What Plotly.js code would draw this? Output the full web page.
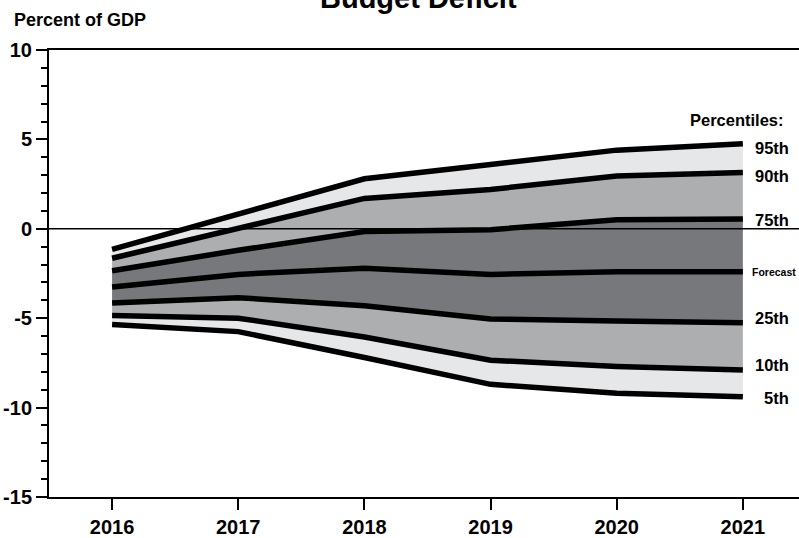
<!DOCTYPE html>
<html>
<head>
<meta charset="utf-8">
<script src="https://cdn.plot.ly/plotly-3.0.1.min.js"></script>
<style>
  html, body { margin: 0; padding: 0; background: #ffffff; }
  #chart { width: 799px; height: 538px; }
</style>
</head>
<body>
<div id="chart"></div>
<script>
// ---- Data ----
const years = [2016, 2017, 2018, 2019, 2020, 2021];
const p95 = [-1.15, 0.85, 2.8, 3.6, 4.4, 4.75];
const p90 = [-1.65, 0.05, 1.7, 2.2, 2.95, 3.15];
const p75 = [-2.35, -1.2, -0.15, -0.05, 0.5, 0.55];
const forecast = [-3.25, -2.55, -2.2, -2.55, -2.4, -2.4];
const p25 = [-4.15, -3.85, -4.3, -5.05, -5.15, -5.25];
const p10 = [-4.85, -5.0, -6.05, -7.35, -7.7, -7.9];
const p5 = [-5.35, -5.75, -7.2, -8.7, -9.2, -9.4];

const yTickVals = [-15, -10, -5, 0, 5, 10];
const yTickText = ["-15", "-10", "-5", "0", "5", "10"];
const xTickVals = [2016, 2017, 2018, 2019, 2020, 2021];
const xTickText = ["2016", "2017", "2018", "2019", "2020", "2021"];

const seriesLabels = ["95th", "90th", "75th", "Forecast", "25th", "10th", "5th"];

// ---- Styles ----
const FONT = "'Liberation Sans', Arial, sans-serif";
const LIGHT = "#e6e7e8";
const MID = "#adaeb0";
const DARK = "#77787b";

// Fill bands (bottom to top), no lines
const bandSeries = [p5, p10, p25, forecast, p75, p90, p95];
const bandColors = [null, LIGHT, MID, DARK, DARK, MID, LIGHT];
const traces = [];
bandSeries.forEach((s, i) => {
  traces.push({
    x: years, y: s, type: "scatter", mode: "lines",
    line: { width: 0, color: "rgba(0,0,0,0)" },
    fill: i === 0 ? "none" : "tonexty",
    fillcolor: bandColors[i] || "rgba(0,0,0,0)",
    hoverinfo: "skip", showlegend: false
  });
});
// Black percentile lines
[p95, p90, p75, forecast, p25, p10, p5].forEach((s) => {
  traces.push({
    x: years, y: s, type: "scatter", mode: "lines",
    line: { width: 5.5, color: "#000000" },
    hoverinfo: "skip", showlegend: false
  });
});

// Right-side label pixel positions (layout only)
const PLOT_L = 49, PLOT_W = 750, PLOT_B = 497, PLOT_H = 447;
const px = (x) => (x - PLOT_L) / PLOT_W;
const py = (y) => (PLOT_B - y) / PLOT_H;
const labelPos = [
  { x: 791, y: 148, size: 16.5, anchor: "right" },
  { x: 791, y: 176, size: 16.5, anchor: "right" },
  { x: 791, y: 220, size: 16.5, anchor: "right" },
  { x: 798, y: 272, size: 10.5, anchor: "right" },
  { x: 791, y: 318, size: 16.5, anchor: "right" },
  { x: 791, y: 365, size: 16.5, anchor: "right" },
  { x: 791, y: 398, size: 16.5, anchor: "right" }
];
const annotations = seriesLabels.map((t, i) => ({
  text: "<b>" + t + "</b>", xref: "paper", yref: "paper",
  x: px(labelPos[i].x), y: py(labelPos[i].y),
  xanchor: labelPos[i].anchor, yanchor: "middle", showarrow: false,
  font: { family: FONT, size: labelPos[i].size, color: "#000" }
}));
annotations.push({
  text: "<b>Percentiles:</b>", xref: "paper", yref: "paper",
  x: px(688), y: py(120), xanchor: "left", yanchor: "middle", showarrow: false,
  font: { family: FONT, size: 16.5, color: "#000" }
});
annotations.push({
  text: "<b>Percent of GDP</b>", xref: "paper", yref: "paper",
  x: px(12), y: py(20), xanchor: "left", yanchor: "middle", showarrow: false,
  font: { family: FONT, size: 18, color: "#000" }
});
annotations.push({
  text: "<b>Budget Deficit</b>", xref: "paper", yref: "paper",
  x: px(418), y: py(-2.5), xanchor: "center", yanchor: "middle", showarrow: false,
  font: { family: FONT, size: 29, color: "#000" }
});

const layout = {
  width: 799, height: 538,
  margin: { l: 49, r: 0, t: 50, b: 41, pad: 0 },
  paper_bgcolor: "#ffffff", plot_bgcolor: "#ffffff",
  showlegend: false,
  font: { family: FONT, color: "#000" },
  xaxis: {
    range: [2015.5, 2021.445],
    tickvals: xTickVals, ticktext: xTickText,
    ticks: "outside", ticklen: 11, tickwidth: 2, tickcolor: "#000",
    showline: true, linewidth: 2, linecolor: "#000", mirror: true,
    showgrid: false, zeroline: false,
    tickfont: { family: FONT, size: 20, color: "#000", weight: "bold" }
  },
  yaxis: {
    range: [-15, 10],
    tickvals: yTickVals, ticktext: yTickText,
    ticks: "outside", ticklen: 11, tickwidth: 2, tickcolor: "#000",
    minor: { dtick: 1, ticks: "outside", ticklen: 6, tickwidth: 2, tickcolor: "#000" },
    showline: true, linewidth: 2, linecolor: "#000",
    showgrid: false, zeroline: false,
    tickfont: { family: FONT, size: 20, color: "#000", weight: "bold" }
  },
  shapes: [{
    type: "line", xref: "paper", yref: "y", x0: 0, x1: 1, y0: 0, y1: 0,
    line: { color: "#000", width: 1.5 }, layer: "above"
  }],
  annotations: annotations
};

Plotly.newPlot("chart", traces, layout, { displayModeBar: false, staticPlot: true });
</script>
</body>
</html>
